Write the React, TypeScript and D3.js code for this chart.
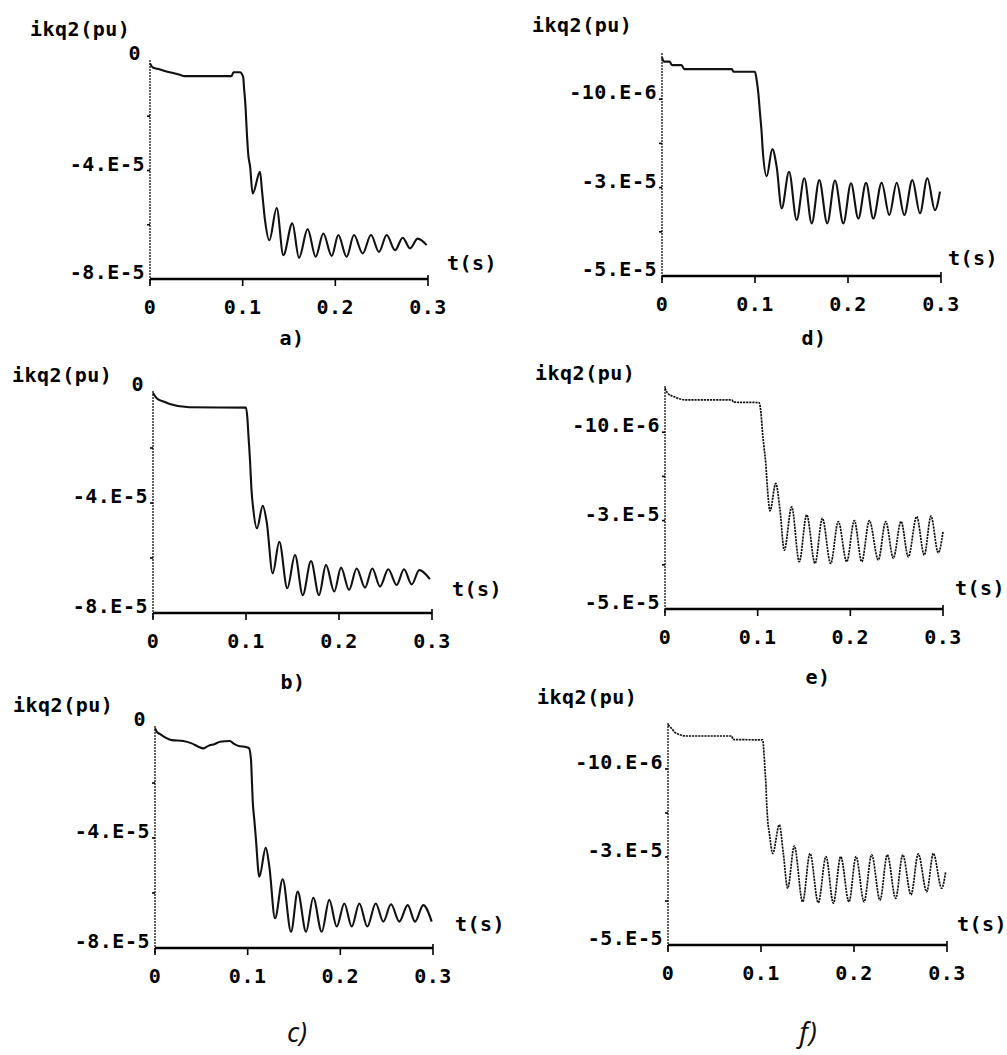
import React from "react";
import * as d3 from "d3";

// ---- data (t in s, ikq2 in units of 1e-5 pu) ----
const xTickValues = [0, 0.1, 0.2, 0.3];
const xTickLabels = ["0", "0.1", "0.2", "0.3"];
const yAxisTitle = "ikq2(pu)";
const xAxisTitle = "t(s)";

const leftTickValues = [-2, -4, -6];
const leftLabelValues = [0, -4, -8];
const leftLabelTexts = ["0", "-4.E-5", "-8.E-5"];

const rightTickValues = [-1, -2, -3, -4];
const rightLabelValues = [-1, -3, -5];
const rightLabelTexts = ["-10.E-6", "-3.E-5", "-5.E-5"];

const captions = ["a)", "b)", "c)", "d)", "e)", "f)"];

const seriesA: [number, number][] = [
  [0, -0.05], [0.003, -0.2], [0.008, -0.25], [0.015, -0.32], [0.033, -0.48], [0.037, -0.52],
  [0.088, -0.52], [0.09, -0.38], [0.097, -0.38], [0.1005, -0.55], [0.1015, -0.96], [0.103, -1.6],
  [0.1045, -2.6], [0.106, -3.4], [0.108, -3.85], [0.1108, -4.85], [0.1187, -4.05], [0.121, -4.8],
  [0.124, -5.8], [0.1288, -6.57], [0.1367, -5.38], [0.1439, -7.12], [0.1536, -5.95], [0.1608, -7.22],
  [0.1701, -6.16], [0.1788, -7.18], [0.187, -6.32], [0.1961, -7.15], [0.2032, -6.38], [0.2122, -7.18],
  [0.2201, -6.38], [0.2295, -7.06], [0.2385, -6.38], [0.2471, -7.0], [0.2554, -6.38], [0.2644, -6.94],
  [0.2727, -6.48], [0.2806, -6.87], [0.2889, -6.51], [0.2986, -6.75],
];

const seriesB: [number, number][] = [
  [0, 0], [0.004, -0.19], [0.012, -0.32], [0.018, -0.4], [0.039, -0.52], [0.1, -0.53],
  [0.1015, -0.92], [0.1026, -1.53], [0.1044, -2.5], [0.1058, -3.47], [0.1077, -4.19], [0.1118, -4.92],
  [0.118, -4.1], [0.1223, -4.7], [0.1287, -6.56], [0.1358, -5.41], [0.1444, -7.1], [0.1527, -5.89],
  [0.161, -7.35], [0.1699, -6.11], [0.1785, -7.35], [0.186, -6.25], [0.1949, -7.22], [0.2022, -6.35],
  [0.2108, -7.16], [0.219, -6.38], [0.228, -7.08], [0.2358, -6.38], [0.2441, -7.04], [0.253, -6.41],
  [0.262, -6.98], [0.2699, -6.41], [0.2782, -6.96], [0.2863, -6.44], [0.2978, -6.77],
];

const seriesC: [number, number][] = [
  [0, -0.01], [0.0018, -0.13], [0.0054, -0.22], [0.0108, -0.34], [0.018, -0.44], [0.0306, -0.47],
  [0.0396, -0.56], [0.0468, -0.68], [0.0522, -0.74], [0.0576, -0.65], [0.0647, -0.58], [0.0701, -0.5],
  [0.0809, -0.47], [0.0845, -0.56], [0.0899, -0.65], [0.099, -0.7], [0.1014, -0.73], [0.1036, -1.16],
  [0.1044, -1.77], [0.1054, -2.62], [0.1072, -3.35], [0.1087, -3.95], [0.1126, -5.41], [0.1195, -4.35],
  [0.1234, -5.04], [0.1295, -6.92], [0.1378, -5.5], [0.1468, -7.41], [0.154, -5.95], [0.163, -7.41],
  [0.1708, -6.17], [0.1799, -7.41], [0.1881, -6.25], [0.1961, -7.22], [0.2043, -6.38], [0.2123, -7.22],
  [0.2205, -6.38], [0.2291, -7.22], [0.2382, -6.38], [0.2464, -7.04], [0.2547, -6.41], [0.2636, -7.04],
  [0.2727, -6.44], [0.2806, -7.04], [0.2895, -6.44], [0.2986, -7.04],
];

const seriesD: [number, number][] = [
  [0, -0.05], [0.002, -0.15], [0.008, -0.15], [0.011, -0.23], [0.021, -0.23], [0.024, -0.32],
  [0.075, -0.32], [0.077, -0.38], [0.1, -0.38], [0.1018, -0.57], [0.1036, -0.87], [0.1054, -1.32],
  [0.1072, -1.77], [0.1083, -2.15], [0.1126, -2.74], [0.1186, -2.13], [0.1233, -2.53], [0.1287, -3.47],
  [0.1366, -2.64], [0.1448, -3.73], [0.153, -2.79], [0.161, -3.81], [0.1691, -2.83], [0.1777, -3.81],
  [0.186, -2.84], [0.195, -3.81], [0.2032, -2.9], [0.2111, -3.7], [0.2194, -2.89], [0.2272, -3.7],
  [0.2362, -2.89], [0.2444, -3.62], [0.2524, -2.89], [0.2605, -3.62], [0.2692, -2.83], [0.2774, -3.58],
  [0.2853, -2.79], [0.2935, -3.51], [0.2989, -3.09],
];

const seriesE: [number, number][] = [
  [0, 0], [0.003, -0.12], [0.01, -0.2], [0.023, -0.27], [0.072, -0.27], [0.074, -0.32],
  [0.1014, -0.33], [0.1036, -0.57], [0.105, -0.95], [0.1068, -1.33], [0.1087, -1.7], [0.1104, -2.23],
  [0.1133, -2.78], [0.1195, -2.16], [0.1241, -2.76], [0.1287, -3.67], [0.1367, -2.69], [0.1449, -3.93],
  [0.1529, -2.87], [0.1619, -3.97], [0.1698, -2.95], [0.1788, -3.97], [0.187, -3.02], [0.1961, -3.93],
  [0.2043, -3.0], [0.2123, -3.93], [0.2205, -3.0], [0.2302, -3.89], [0.2382, -3.02], [0.2464, -3.85],
  [0.2547, -3.02], [0.2626, -3.82], [0.2716, -2.91], [0.2798, -3.78], [0.287, -2.9], [0.2949, -3.73],
  [0.3, -3.25],
];

const seriesF: [number, number][] = [
  [0, 0], [0.004, -0.08], [0.0075, -0.17], [0.02, -0.25], [0.0685, -0.25], [0.07, -0.33],
  [0.1018, -0.34], [0.1032, -0.64], [0.1043, -1.02], [0.1054, -1.4], [0.1061, -1.78], [0.1072, -2.16],
  [0.109, -2.46], [0.1126, -2.92], [0.1197, -2.27], [0.124, -2.92], [0.1287, -3.71], [0.1358, -2.75],
  [0.1448, -4.02], [0.1527, -2.92], [0.1616, -4.04], [0.1699, -2.99], [0.1778, -4.05], [0.1857, -2.99],
  [0.1946, -4.02], [0.2022, -2.99], [0.2108, -4.02], [0.219, -2.95], [0.228, -3.98], [0.2358, -2.95],
  [0.2448, -3.94], [0.2524, -2.95], [0.2613, -3.86], [0.2691, -2.93], [0.2782, -3.79], [0.2853, -2.92],
  [0.2943, -3.71], [0.2986, -3.33],
];

// ---- layout ----
type Panel = {
  series: [number, number][];
  left: boolean;
  x0: number; x1: number; yTop: number; yBot: number;
  title: [number, number];
  tLab: [number, number];
  cap: [number, number];
  hand: boolean;
  dotted: boolean;
};

const panels: Panel[] = [
  { series: seriesA, left: true, x0: 150, x1: 428, yTop: 62, yBot: 279, title: [30, 36], tLab: [447, 270], cap: [292, 345], hand: false, dotted: false },
  { series: seriesB, left: true, x0: 153, x1: 432, yTop: 393, yBot: 613, title: [12, 382], tLab: [452, 596], cap: [293, 689], hand: false, dotted: false },
  { series: seriesC, left: true, x0: 155, x1: 433, yTop: 728, yBot: 948, title: [13, 712], tLab: [455, 931], cap: [297, 1042], hand: true, dotted: false },
  { series: seriesD, left: false, x0: 662, x1: 941, yTop: 55, yBot: 276, title: [532, 32], tLab: [948, 265], cap: [814, 345], hand: false, dotted: false },
  { series: seriesE, left: false, x0: 665, x1: 943, yTop: 388, yBot: 609, title: [535, 380], tLab: [955, 595], cap: [818, 684], hand: false, dotted: true },
  { series: seriesF, left: false, x0: 668, x1: 947, yTop: 725, yBot: 945, title: [537, 704], tLab: [957, 931], cap: [808, 1042], hand: true, dotted: true },
];

const FONT = "'DejaVu Sans Mono', monospace";

function PanelView({ p, idx }: { p: Panel; idx: number }) {
  const x = d3.scaleLinear().domain([0, 0.3]).range([p.x0, p.x1]);
  const y = d3.scaleLinear().domain([0, p.left ? -8 : -5]).range([p.yTop, p.yBot]);
  const line = d3
    .line<[number, number]>()
    .x((d) => x(d[0]))
    .y((d) => y(d[1]))
    .curve(d3.curveMonotoneX);
  const tickVals = p.left ? leftTickValues : rightTickValues;
  const labVals = p.left ? leftLabelValues : rightLabelValues;
  const labTexts = p.left ? leftLabelTexts : rightLabelTexts;
  const textStyle = { fontFamily: FONT, fontWeight: 700, fontSize: 20, letterSpacing: 0.5 } as const;
  return (
    <g>
      {/* y axis */}
      <line x1={p.x0} x2={p.x0} y1={p.yTop - 2} y2={p.yBot + 5} stroke="#222" strokeWidth={1.4} strokeDasharray="2 1" />
      {tickVals.map((v) => (
        <line key={"yt" + v} x1={p.x0 - 3} x2={p.x0} y1={y(v)} y2={y(v)} stroke="#000" strokeWidth={1.6} />
      ))}
      {labVals.map((v, i) => (
        <text key={"yl" + v} x={p.x0 - (labTexts[i] === "0" ? 9 : 5)} y={y(v) + (labTexts[i] === "0" ? -2 : 0)} textAnchor="end" {...textStyle}>
          {labTexts[i]}
        </text>
      ))}
      {/* x axis */}
      <line x1={p.x0} x2={p.x1} y1={p.yBot} y2={p.yBot} stroke="#000" strokeWidth={2.6} />
      {xTickValues.map((v) => (
        <line key={"xt" + v} x1={x(v)} x2={x(v)} y1={v === 0.3 ? p.yBot - 4 : p.yBot} y2={p.yBot + 7} stroke="#000" strokeWidth={1.6} />
      ))}
      {xTickValues.map((v, i) => (
        <text key={"xl" + v} x={x(v)} y={p.yBot + 35} textAnchor="middle" {...textStyle}>
          {xTickLabels[i]}
        </text>
      ))}
      <text x={p.title[0]} y={p.title[1]} {...textStyle}>{yAxisTitle}</text>
      <text x={p.tLab[0]} y={p.tLab[1]} {...textStyle}>{xAxisTitle}</text>
      {/* curve */}
      <path
        d={line(p.series) || ""}
        fill="none"
        stroke="#111"
        strokeWidth={p.dotted ? 1.7 : 2.1}
        strokeDasharray={p.dotted ? "2.2 0.9" : undefined}
        strokeLinejoin="round"
      />
      {/* caption */}
      {p.hand ? (
        <text x={p.cap[0]} y={p.cap[1]} textAnchor="middle" fontFamily="'Noto Sans', sans-serif" fontSize={27} fontStyle="italic" fill="#111">
          {captions[idx]}
        </text>
      ) : (
        <text x={p.cap[0]} y={p.cap[1]} textAnchor="middle" {...textStyle}>
          {captions[idx]}
        </text>
      )}
    </g>
  );
}

export default function App() {
  return (
    <svg
      width={1007}
      height={1055}
      viewBox="0 0 1007 1055"
      style={{ position: "absolute", left: 0, top: 0, background: "#fff" }}
    >
      <rect x={0} y={0} width={1007} height={1055} fill="#fff" />
      {panels.map((p, i) => (
        <PanelView key={i} p={p} idx={i} />
      ))}
    </svg>
  );
}
